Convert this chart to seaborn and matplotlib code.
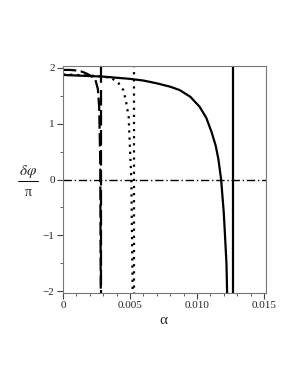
import numpy as np
import pandas as pd
import matplotlib
matplotlib.use("Agg")
import matplotlib.pyplot as plt
import seaborn as sns
from matplotlib.ticker import MultipleLocator

sns.set_style("ticks")
plt.rcParams['font.family'] = ['Liberation Serif', 'DejaVu Serif']
plt.rcParams['mathtext.fontset'] = 'stix'

# solid curve
solid_x = [0.0, 0.001, 0.002, 0.003, 0.004, 0.005, 0.006, 0.007, 0.008, 0.0087, 0.0095, 0.0102,
           0.0107, 0.0111, 0.0114, 0.0116, 0.0118, 0.0120, 0.0122, 0.01225]
solid_y = [1.87, 1.86, 1.85, 1.84, 1.82, 1.80, 1.77, 1.72, 1.66, 1.60, 1.48, 1.30,
           1.10, 0.84, 0.60, 0.36, 0.0, -0.6, -1.5, -2.05]
solid_asym = 0.01266

# dashed curve
dash_x = [0.0, 0.0005, 0.001, 0.0014, 0.0018, 0.0021, 0.0024, 0.0026, 0.0027, 0.00278, 0.00282]
dash_y = [1.96, 1.96, 1.95, 1.93, 1.89, 1.85, 1.80, 1.62, 1.30, 0.3, -2.05]
dash_asym = 0.00287

# dotted curve
dot_x = [0.0, 0.001, 0.002, 0.003, 0.0035, 0.0037, 0.0041, 0.0045, 0.0047, 0.0049, 0.0050, 0.0051, 0.00515, 0.0052]
dot_y = [1.88, 1.87, 1.86, 1.84, 1.82, 1.80, 1.74, 1.60, 1.40, 1.12, 0.54, 0.0, -1.0, -2.05]
dot_asym = 0.0053

fig = plt.figure(figsize=(3.0, 3.88), dpi=100)
ax = fig.add_axes([63/300, 1-293/388, (266-63)/300, (293-66)/388])

lw = 1.6
dashed = (0, (6, 2))
dotted = (0, (1, 2.2))
sns.lineplot(x=solid_x, y=solid_y, ax=ax, color='black', lw=lw, sort=False)
ax.plot([solid_asym, solid_asym], [-2.05, 2.05], color='black', lw=lw)
sns.lineplot(x=dash_x, y=dash_y, ax=ax, color='black', lw=lw, sort=False, linestyle=dashed)
ax.plot([dash_asym, dash_asym], [2.05, 1.75], color='black', lw=lw)
ax.plot([dash_asym, dash_asym], [1.60, -2.05], color='black', lw=lw, linestyle=(0, (7, 2)))
sns.lineplot(x=dot_x, y=dot_y, ax=ax, color='black', lw=lw, sort=False, linestyle=dotted)
ax.plot([dot_asym, dot_asym], [2.05, -2.05], color='black', lw=lw, linestyle=dotted)
ax.axhline(0, color='black', lw=1.0, linestyle=(0, (6, 2, 1, 2)))

ax.set_xlim(0, 0.01515)
ax.set_ylim(-2.03, 2.03)
ax.set_xticks([0, 0.005, 0.010, 0.015])
ax.set_xticklabels(['0', '0.005', '0.010', '0.015'])
ax.set_yticks([-2, -1, 0, 1, 2])
ax.set_yticklabels(['\u22122', '\u22121', '0', '1', '2'])
ax.xaxis.set_minor_locator(MultipleLocator(0.001))
ax.yaxis.set_minor_locator(MultipleLocator(0.5))
ax.tick_params(which='major', length=4, width=0.8, labelsize=8, pad=2, color='#444444')
ax.tick_params(which='minor', length=2, width=0.6, color='#444444')
for s in ax.spines.values():
    s.set_color('#777777')
    s.set_linewidth(0.8)

fig.text(28/300, 1-172/388, r'$\delta\varphi$', fontsize=11, ha='center', va='center')
fig.add_artist(plt.Line2D([18/300, 38/300], [1-181/388, 1-181/388], color='black', lw=0.7))
fig.text(28/300, 1-192/388, '\u03c0', fontsize=10, ha='center', va='center')
fig.text(163/300, 1-320/388, '\u03b1', fontsize=11, ha='center', va='center')

fig.savefig('out.png', dpi=100, facecolor='white')
